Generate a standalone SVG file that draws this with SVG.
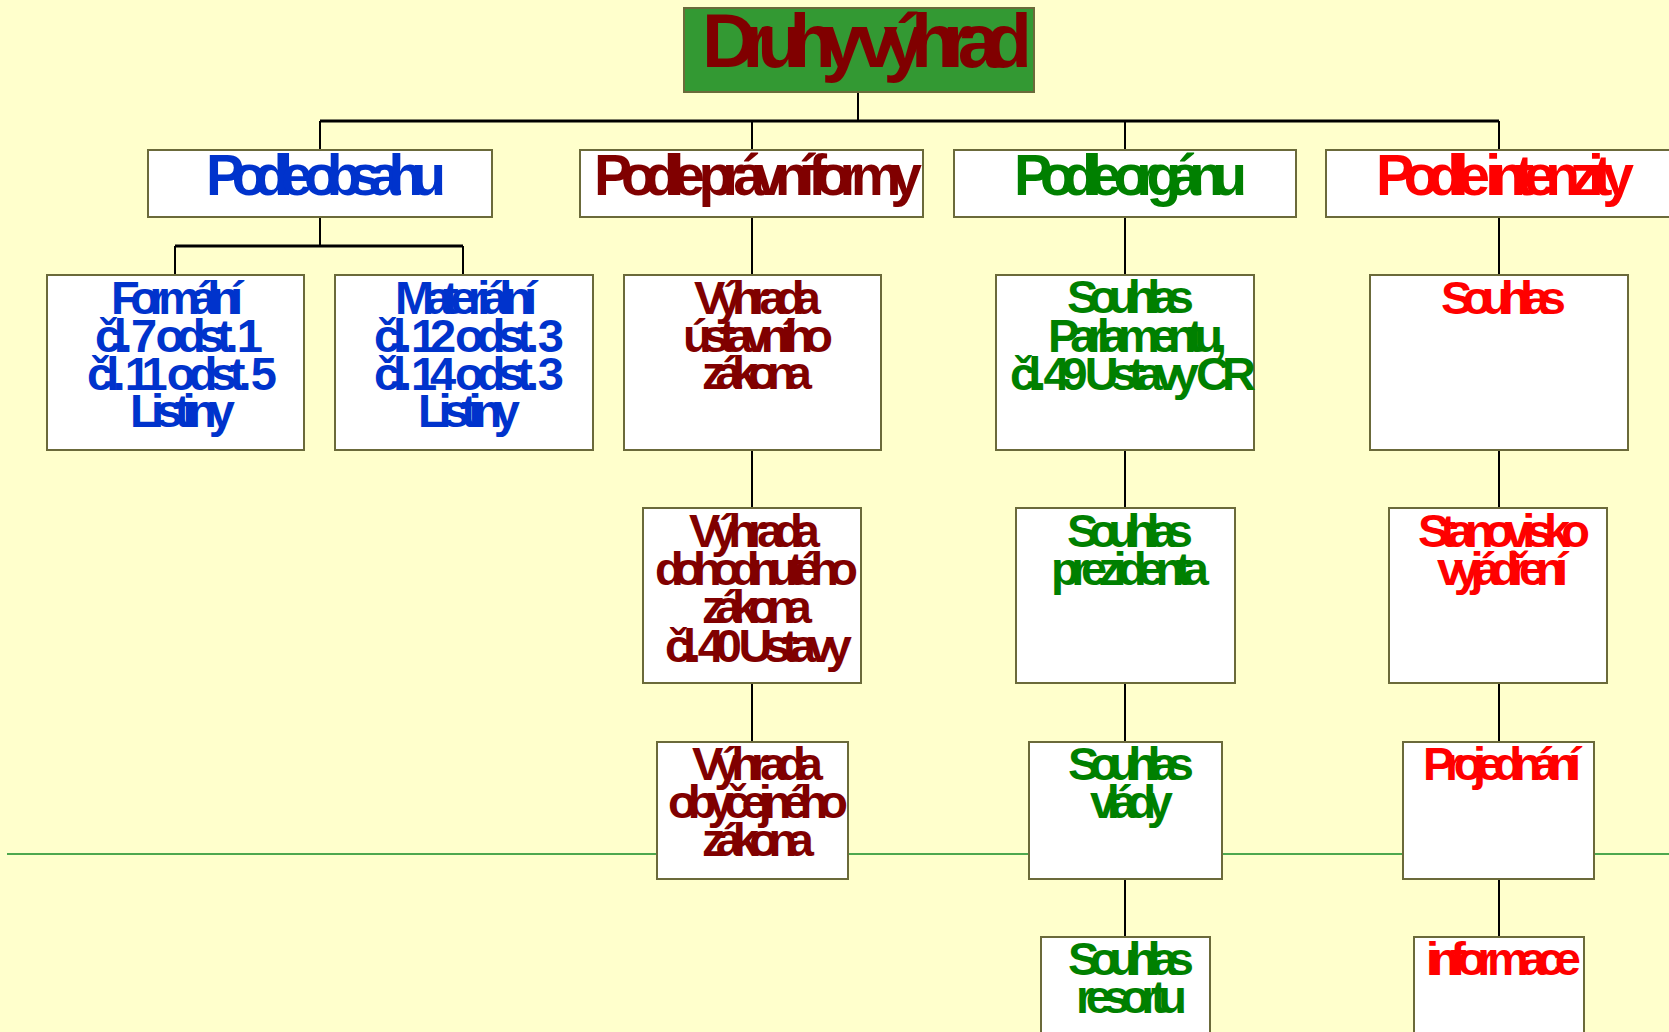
<svg xmlns="http://www.w3.org/2000/svg" width="1669" height="1032" viewBox="0 0 1669 1032">
<style>
.bg{fill:#ffffcc}
.box{fill:#ffffff;stroke:#6b6a3a;stroke-width:2}
.title{fill:#339933;stroke:#6b6a3a;stroke-width:2}
.con{stroke:#000000;stroke-width:2;fill:none}
.bar{stroke:#000000;stroke-width:3;fill:none}
.gl{stroke:#4ea84e;stroke-width:2;fill:none}
text{font-family:"Liberation Sans",Arial,sans-serif;font-weight:bold}
.t0{font-size:76px;fill:#800000}
.t1{font-size:57px}
.t2{font-size:47px}
.blue{fill:#0033cc}
.dred{fill:#800000}
.green{fill:#008000}
.red{fill:#ff0000}
</style>
<rect class="bg" x="0" y="0" width="1669" height="1032"/>
<line class="gl" x1="7" y1="854" x2="1669" y2="854"/>
<g id="connectors">
<line class="con" x1="858" y1="92" x2="858" y2="121"/>
<line class="bar" x1="320" y1="121" x2="1499" y2="121"/>
<line class="con" x1="320" y1="121" x2="320" y2="150"/>
<line class="con" x1="752" y1="121" x2="752" y2="150"/>
<line class="con" x1="1125" y1="121" x2="1125" y2="150"/>
<line class="con" x1="1499" y1="121" x2="1499" y2="150"/>
<line class="con" x1="320" y1="217" x2="320" y2="246"/>
<line class="bar" x1="175" y1="246" x2="463" y2="246"/>
<line class="con" x1="175" y1="246" x2="175" y2="275"/>
<line class="con" x1="463" y1="246" x2="463" y2="275"/>
<line class="con" x1="752" y1="217" x2="752" y2="275"/>
<line class="con" x1="752" y1="450" x2="752" y2="508"/>
<line class="con" x1="752" y1="683" x2="752" y2="742"/>
<line class="con" x1="1125" y1="217" x2="1125" y2="275"/>
<line class="con" x1="1125" y1="450" x2="1125" y2="508"/>
<line class="con" x1="1125" y1="683" x2="1125" y2="742"/>
<line class="con" x1="1125" y1="879" x2="1125" y2="937"/>
<line class="con" x1="1499" y1="217" x2="1499" y2="275"/>
<line class="con" x1="1499" y1="450" x2="1499" y2="508"/>
<line class="con" x1="1499" y1="683" x2="1499" y2="742"/>
<line class="con" x1="1499" y1="879" x2="1499" y2="937"/>
</g>
<g id="n-root">
<rect class="title" x="684" y="8" width="350" height="84"/>
<text class="t0" x="702" y="67" textLength="330" lengthAdjust="spacing">Druhy výhrad</text>
</g>
<g id="n-obsah">
<rect class="box" x="148" y="150" width="344" height="67"/>
<text class="t1 blue" x="206" y="195" textLength="240" lengthAdjust="spacing">Podle obsahu</text>
</g>
<g id="n-forma">
<rect class="box" x="580" y="150" width="343" height="67"/>
<text class="t1 dred" x="594" y="195" textLength="328" lengthAdjust="spacing">Podle právní formy</text>
</g>
<g id="n-organ">
<rect class="box" x="954" y="150" width="342" height="67"/>
<text class="t1 green" x="1014" y="195" textLength="233" lengthAdjust="spacing">Podle orgánu</text>
</g>
<g id="n-intenzita">
<rect class="box" x="1326" y="150" width="344" height="67"/>
<text class="t1 red" x="1376" y="195" textLength="258" lengthAdjust="spacing">Podle intenzity</text>
</g>
<g id="n-formalni">
<rect class="box" x="47" y="275" width="257" height="175"/>
<text class="t2 blue" x="111" y="314" textLength="132" lengthAdjust="spacing">Formální</text>
<text class="t2 blue" x="95" y="352" textLength="168" lengthAdjust="spacing">čl. 7 odst. 1</text>
<text class="t2 blue" x="87" y="390" textLength="190" lengthAdjust="spacing">čl. 11 odst. 5</text>
<text class="t2 blue" x="130" y="427" textLength="105" lengthAdjust="spacing">Listiny</text>
</g>
<g id="n-materialni">
<rect class="box" x="335" y="275" width="258" height="175"/>
<text class="t2 blue" x="395" y="314" textLength="142" lengthAdjust="spacing">Materiální</text>
<text class="t2 blue" x="374" y="352" textLength="190" lengthAdjust="spacing">čl. 12 odst. 3</text>
<text class="t2 blue" x="374" y="390" textLength="190" lengthAdjust="spacing">čl. 14 odst. 3</text>
<text class="t2 blue" x="418" y="427" textLength="102" lengthAdjust="spacing">Listiny</text>
</g>
<g id="n-ustavni">
<rect class="box" x="624" y="275" width="257" height="175"/>
<text class="t2 dred" x="694" y="314" textLength="127" lengthAdjust="spacing">Výhrada</text>
<text class="t2 dred" x="683" y="352" textLength="150" lengthAdjust="spacing">ústavního</text>
<text class="t2 dred" x="702" y="389" textLength="110" lengthAdjust="spacing">zákona</text>
</g>
<g id="n-parlament">
<rect class="box" x="996" y="275" width="258" height="175"/>
<text class="t2 green" x="1067" y="313" textLength="127" lengthAdjust="spacing">Souhlas</text>
<text class="t2 green" x="1048" y="352" textLength="179" lengthAdjust="spacing">Parlamentu,</text>
<text class="t2 green" x="1010" y="390" textLength="246" lengthAdjust="spacing">čl. 49 Ustavy CR</text>
</g>
<g id="n-souhlas">
<rect class="box" x="1370" y="275" width="258" height="175"/>
<text class="t2 red" x="1441" y="314" textLength="125" lengthAdjust="spacing">Souhlas</text>
</g>
<g id="n-dohodnuty">
<rect class="box" x="643" y="508" width="218" height="175"/>
<text class="t2 dred" x="689" y="547" textLength="131" lengthAdjust="spacing">Výhrada</text>
<text class="t2 dred" x="655" y="585" textLength="203" lengthAdjust="spacing">dohodnutého</text>
<text class="t2 dred" x="702" y="623" textLength="110" lengthAdjust="spacing">zákona</text>
<text class="t2 dred" x="665" y="662" textLength="187" lengthAdjust="spacing">čl. 40 Ustavy</text>
</g>
<g id="n-prezident">
<rect class="box" x="1016" y="508" width="219" height="175"/>
<text class="t2 green" x="1067" y="547" textLength="126" lengthAdjust="spacing">Souhlas</text>
<text class="t2 green" x="1051" y="585" textLength="158" lengthAdjust="spacing">prezidenta</text>
</g>
<g id="n-stanovisko">
<rect class="box" x="1389" y="508" width="218" height="175"/>
<text class="t2 red" x="1418" y="547" textLength="172" lengthAdjust="spacing">Stanovisko</text>
<text class="t2 red" x="1437" y="585" textLength="131" lengthAdjust="spacing">vyjádření</text>
</g>
<g id="n-obycejny">
<rect class="box" x="657" y="742" width="191" height="137"/>
<text class="t2 dred" x="692" y="780" textLength="131" lengthAdjust="spacing">Výhrada</text>
<text class="t2 dred" x="668" y="818" textLength="180" lengthAdjust="spacing">obyčejného</text>
<text class="t2 dred" x="702" y="856" textLength="112" lengthAdjust="spacing">zákona</text>
</g>
<g id="n-vlada">
<rect class="box" x="1029" y="742" width="193" height="137"/>
<text class="t2 green" x="1068" y="780" textLength="126" lengthAdjust="spacing">Souhlas</text>
<text class="t2 green" x="1090" y="818" textLength="83" lengthAdjust="spacing">vlády</text>
</g>
<g id="n-projednani">
<rect class="box" x="1403" y="742" width="191" height="137"/>
<text class="t2 red" x="1423" y="780" textLength="158" lengthAdjust="spacing">Projednání</text>
</g>
<g id="n-resort">
<rect class="box" x="1041" y="937" width="169" height="110"/>
<text class="t2 green" x="1068" y="975" textLength="126" lengthAdjust="spacing">Souhlas</text>
<text class="t2 green" x="1076" y="1013" textLength="111" lengthAdjust="spacing">resortu</text>
</g>
<g id="n-informace">
<rect class="box" x="1414" y="937" width="170" height="110"/>
<text class="t2 red" x="1426" y="975" textLength="155" lengthAdjust="spacing">informace</text>
</g>
</svg>
